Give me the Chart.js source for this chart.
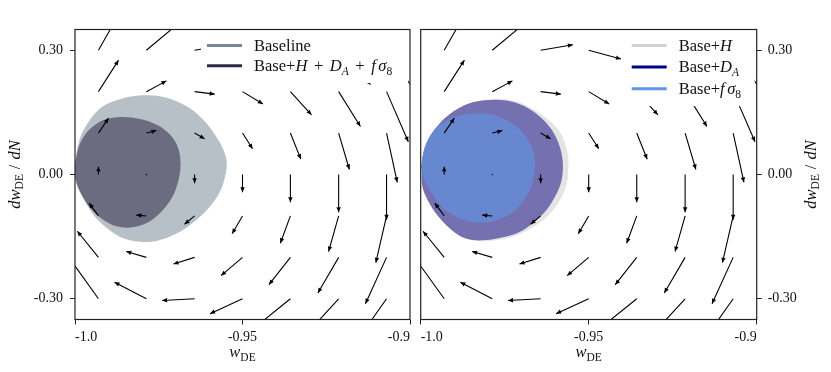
<!DOCTYPE html>
<html>
<head>
<meta charset="utf-8">
<script src="https://cdn.jsdelivr.net/npm/chart.js@4"></script>
<style>
  body { margin: 0; background: #fff; }
  #wrap { position: relative; width: 831px; height: 372px; }
  canvas { position: absolute; top: 0; }
</style>
</head>
<body>
<div id="wrap">
  <canvas id="left" width="415" height="372" style="left:0"></canvas>
  <canvas id="right" width="416" height="372" style="left:415px"></canvas>
</div>
<script>
// axes
var xTicks = [-1.0, -0.95, -0.9];
var xTickLabels = ['-1.0', '-0.95', '-0.9'];
var yTicks = [-0.3, 0, 0.3];
var yTickLabels = ['-0.30', '0.00', '0.30'];

// quiver grid (w_DE, dw_DE/dN) and flow vectors, one row per dw value
var gridX = [-0.993, -0.9787, -0.9643, -0.95, -0.9357, -0.9213, -0.907];
var gridY = [0.3, 0.2, 0.1, 0.0, -0.1, -0.2, -0.3];
var flowU = [
  [0.0095, 0.0095, 0.0096, 0.0096, 0.0095, 0.0095, 0.0095],
  [0.0060, 0.0060, 0.0060, 0.0061, 0.0063, 0.0065, 0.0065],
  [0.0030, 0.0030, 0.0030, 0.0030, 0.0031, 0.0032, 0.0032],
  [0, 0, 0, 0, 0, 0, 0],
  [-0.0028, -0.0030, -0.0030, -0.0031, -0.0030, -0.0030, -0.0032],
  [-0.0063, -0.0060, -0.0063, -0.0064, -0.0064, -0.0062, -0.0063],
  [-0.0093, -0.0095, -0.0097, -0.0097, -0.0095, -0.0095, -0.0095]
];
var flowV = [
  [0.135, 0.064, 0.013, -0.021, -0.052, -0.083, -0.111],
  [0.076, 0.026, -0.006, -0.030, -0.056, -0.084, -0.121],
  [0.036, 0.006, -0.014, -0.038, -0.063, -0.088, -0.119],
  [0.019, 0, -0.021, -0.043, -0.067, -0.091, -0.109],
  [0.031, 0.002, -0.020, -0.043, -0.066, -0.086, -0.113],
  [0.063, 0.014, -0.016, -0.044, -0.066, -0.086, -0.112],
  [0.105, 0.040, -0.004, -0.036, -0.062, -0.084, -0.109]
];

// contours
var baselineW = [-1.0, -0.9997, -0.9985, -0.9965, -0.9940, -0.9905, -0.9856, -0.9801, -0.9756, -0.9707, -0.9657, -0.9617, -0.9582, -0.9557, -0.9547, -0.9552, -0.9567, -0.9597, -0.9637, -0.9687, -0.9746, -0.9796, -0.9856, -0.9905, -0.9945, -0.9975, -0.9995];
var baselineDW = [0.003, 0.043, 0.088, 0.120, 0.148, 0.170, 0.184, 0.191, 0.190, 0.180, 0.160, 0.132, 0.096, 0.060, 0.031, -0.005, -0.041, -0.077, -0.109, -0.138, -0.158, -0.163, -0.154, -0.129, -0.097, -0.057, -0.025];
var comboW = [-1.0, -0.9990, -0.9970, -0.9940, -0.9905, -0.9856, -0.9806, -0.9756, -0.9716, -0.9692, -0.9685, -0.9692, -0.9711, -0.9746, -0.9786, -0.9836, -0.9876, -0.9916, -0.9955, -0.9985, -0.9998];
var comboDW = [0.023, 0.064, 0.096, 0.120, 0.134, 0.139, 0.134, 0.120, 0.096, 0.064, 0.023, -0.017, -0.057, -0.093, -0.117, -0.128, -0.125, -0.109, -0.081, -0.041, -0.009];
var hubbleW = [-0.9997, -0.9992, -0.9972, -0.9943, -0.9903, -0.9858, -0.9809, -0.9764, -0.9715, -0.9670, -0.9625, -0.9590, -0.9571, -0.9561, -0.9561, -0.9565, -0.9580, -0.9605, -0.9640, -0.9690, -0.9749, -0.9815, -0.9868, -0.9908, -0.9948, -0.9977, -0.9995];
var hubbleDW = [0.011, 0.052, 0.092, 0.124, 0.152, 0.171, 0.180, 0.182, 0.176, 0.160, 0.136, 0.108, 0.076, 0.043, 0.011, -0.021, -0.053, -0.085, -0.113, -0.138, -0.155, -0.161, -0.154, -0.134, -0.101, -0.065, -0.029];
var angularW = [-0.9997, -0.9992, -0.9972, -0.9943, -0.9903, -0.9858, -0.9809, -0.9764, -0.9719, -0.9680, -0.9640, -0.9610, -0.9590, -0.9579, -0.9577, -0.9583, -0.9600, -0.9625, -0.9660, -0.9704, -0.9759, -0.9818, -0.9868, -0.9908, -0.9948, -0.9977, -0.9995];
var angularDW = [0.011, 0.052, 0.092, 0.124, 0.152, 0.171, 0.179, 0.180, 0.174, 0.160, 0.136, 0.108, 0.076, 0.043, 0.011, -0.021, -0.053, -0.085, -0.113, -0.138, -0.152, -0.159, -0.154, -0.134, -0.101, -0.065, -0.029];
var growthW = [-0.9999, -0.9987, -0.9963, -0.9928, -0.9878, -0.9824, -0.9774, -0.9729, -0.9695, -0.9670, -0.9660, -0.9662, -0.9675, -0.9699, -0.9729, -0.9769, -0.9809, -0.9858, -0.9898, -0.9938, -0.9967, -0.9989];
var growthDW = [0.019, 0.068, 0.104, 0.128, 0.144, 0.148, 0.142, 0.124, 0.100, 0.068, 0.035, 0.003, -0.037, -0.069, -0.093, -0.109, -0.116, -0.113, -0.101, -0.077, -0.045, -0.013];

// legend labels (text, style): r roman, i italic, s* subscript, g gap in em
var leftLabels = [
  [['Baseline', 'r']],
  [['Base+', 'r'], ['H', 'i'], [0.4, 'g'], ['+', 'r'], [0.4, 'g'], ['D', 'i'], ['A', 'si'], [0.4, 'g'], ['+', 'r'], [0.4, 'g'], ['f', 'i'], [0.15, 'g'], ['σ', 'i'], ['8', 'sr']]
];
var rightLabels = [
  [['Base+', 'r'], ['H', 'i']],
  [['Base+', 'r'], ['D', 'i'], ['A', 'si']],
  [['Base+', 'r'], ['f', 'i'], [0.15, 'g'], ['σ', 'i'], ['8', 'sr']]
];
var xTitleParts = [['w', 'i'], ['DE', 'sr']];
var yTitleParts = [['d', 'i'], ['w', 'i'], ['DE', 'sr'], [0.3, 'g'], ['/', 'r'], [0.3, 'g'], ['d', 'i'], ['N', 'i']];

Chart.defaults.font.family = '"Liberation Serif", "Times New Roman", serif';
Chart.defaults.color = '#111';

function toPts(xs, ys) {
  var pts = xs.map(function (x, i) { return {x: x, y: ys[i]}; });
  pts.push({x: xs[0], y: ys[0]});
  return pts;
}

function arrowShafts() {
  var pts = [];
  gridY.forEach(function (y, r) {
    gridX.forEach(function (x, c) {
      pts.push({x: x, y: y}, {x: x + flowU[r][c], y: y + flowV[r][c]}, {x: null, y: null});
    });
  });
  return pts;
}

function richText(ctx, parts, x, y, size, measureOnly) {
  var cx = x;
  parts.forEach(function (p) {
    if (p[1] === 'g') { cx += p[0] * size; return; }
    var sub = p[1].charAt(0) === 's', it = p[1].indexOf('i') >= 0;
    var fs = sub ? size * 0.7 : size;
    ctx.font = (it ? 'italic ' : '') + fs.toFixed(1) + 'px "Liberation Serif"';
    if (!measureOnly) ctx.fillText(p[0], cx, y + (sub ? size * 0.22 : 0));
    cx += ctx.measureText(p[0]).width;
  });
  return cx - x;
}

var quiverHeads = {
  id: 'quiverHeads',
  afterDatasetsDraw: function (chart) {
    var ctx = chart.ctx, a = chart.chartArea, sx = chart.scales.x, sy = chart.scales.y;
    ctx.save();
    ctx.beginPath();
    ctx.rect(a.left, a.top, a.right - a.left, a.bottom - a.top);
    ctx.clip();
    ctx.fillStyle = '#000';
    gridY.forEach(function (y, r) {
      gridX.forEach(function (x, c) {
        var x0 = sx.getPixelForValue(x), y0 = sy.getPixelForValue(y);
        var x1 = sx.getPixelForValue(x + flowU[r][c]), y1 = sy.getPixelForValue(y + flowV[r][c]);
        var dx = x1 - x0, dy = y1 - y0, len = Math.sqrt(dx * dx + dy * dy);
        ctx.beginPath();
        if (len < 0.5) {
          ctx.arc(x0, y0, 0.7, 0, 2 * Math.PI);
          ctx.fill();
          return;
        }
        var ux = dx / len, uy = dy / len, hl = Math.min(5, len * 0.6), hw = 2.2;
        ctx.moveTo(x1, y1);
        ctx.lineTo(x1 - ux * hl - uy * hw, y1 - uy * hl + ux * hw);
        ctx.lineTo(x1 - ux * hl + uy * hw, y1 - uy * hl - ux * hw);
        ctx.closePath();
        ctx.fill();
      });
    });
    ctx.restore();
  }
};

var boxLegend = {
  id: 'boxLegend',
  afterDatasetsDraw: function (chart, args, opts) {
    var ctx = chart.ctx, a = chart.chartArea, size = 16.5;
    ctx.save();
    ctx.textAlign = 'left';
    ctx.textBaseline = 'alphabetic';
    var w = Math.max.apply(null, opts.labels.map(function (p) { return richText(ctx, p, 0, 0, size, true); }));
    w = Math.max(w, opts.minWidth);
    var tx = a.right - 8 - w, hx1 = tx - 12, hx0 = hx1 - 35;
    var base0 = a.top + 21.2;
    var lastBase = base0 + opts.rowGap * (opts.labels.length - 1);
    ctx.fillStyle = '#fff';
    ctx.fillRect(hx0 - 6, a.top + 1, a.right - 2 - (hx0 - 6), lastBase + 12 - a.top - 1);
    opts.labels.forEach(function (p, i) {
      var by = base0 + i * opts.rowGap;
      ctx.strokeStyle = opts.colors[i];
      ctx.lineWidth = 3;
      ctx.beginPath();
      ctx.moveTo(hx0, by - 5.3);
      ctx.lineTo(hx1, by - 5.3);
      ctx.stroke();
      ctx.fillStyle = '#111';
      richText(ctx, p, tx, by, size, false);
    });
    // frame
    ctx.strokeStyle = '#222';
    ctx.lineWidth = 1.2;
    ctx.strokeRect(a.left, a.top, a.right - a.left, a.bottom - a.top);
    ctx.restore();
  }
};

var axisTitles = {
  id: 'axisTitles',
  afterDraw: function (chart, args, opts) {
    var ctx = chart.ctx, a = chart.chartArea, size = 16.5;
    ctx.save();
    ctx.fillStyle = '#111';
    ctx.textAlign = 'left';
    ctx.textBaseline = 'alphabetic';
    var w = richText(ctx, xTitleParts, 0, 0, size, true);
    richText(ctx, xTitleParts, (a.left + a.right) / 2 - w / 2, 357, size, false);
    ctx.translate(opts.yTitleX, (a.top + a.bottom) / 2);
    ctx.rotate(-Math.PI / 2);
    w = richText(ctx, yTitleParts, 0, 0, size, true);
    richText(ctx, yTitleParts, -w / 2, 0, size, false);
    ctx.restore();
  }
};

function shapeSet(label, pts, color, order) {
  return {
    label: label, data: pts, backgroundColor: color, borderColor: 'rgba(0,0,0,0)',
    borderWidth: 1, fill: 'shape', pointRadius: 0, tension: 0.35, order: order, clip: 0
  };
}

function makeChart(id, side, contours, legendLabels, legendColors, rowGap, minWidth, padding, axisWidth, yTitleX) {
  var datasets = [{
    label: 'flow', data: arrowShafts(), borderColor: '#000', borderWidth: 1.1,
    pointRadius: 0, fill: false, tension: 0, spanGaps: false, order: 0, clip: 0
  }].concat(contours);
  return new Chart(document.getElementById(id), {
    type: 'line',
    data: {datasets: datasets},
    options: {
      responsive: false,
      animation: false,
      events: [],
      layout: {padding: padding},
      scales: {
        x: {
          type: 'linear', min: -1.0, max: -0.9,
          afterBuildTicks: function (s) { s.ticks = xTicks.map(function (v) { return {value: v}; }); },
          afterFit: function (s) { s.height = 52.5; },
          ticks: {
            align: 'inner', padding: 4, color: '#111', font: {size: 14},
            maxRotation: 0, autoSkip: false,
            callback: function (v, i) { return xTickLabels[i]; }
          },
          grid: {drawOnChartArea: false, tickLength: 5, color: '#222'},
          border: {display: false}
        },
        y: {
          type: 'linear', position: side, min: -0.35, max: 0.35,
          afterBuildTicks: function (s) { s.ticks = yTicks.map(function (v) { return {value: v}; }); },
          afterFit: function (s) { s.width = axisWidth; },
          ticks: {
            padding: side === 'left' ? 7 : 6, color: '#111', font: {size: 14}, autoSkip: false,
            callback: function (v, i) { return yTickLabels[i]; }
          },
          grid: {drawOnChartArea: false, tickLength: 5, color: '#222'},
          border: {display: false}
        }
      },
      plugins: {
        legend: {display: false},
        tooltip: {enabled: false},
        boxLegend: {labels: legendLabels, colors: legendColors, rowGap: rowGap, minWidth: minWidth},
        axisTitles: {yTitleX: yTitleX}
      }
    },
    plugins: [quiverHeads, boxLegend, axisTitles]
  });
}

makeChart('left', 'left', [
  shapeSet('Base+H+DA+fs8', toPts(comboW, comboDW), '#6c6c80', 1),
  shapeSet('Baseline', toPts(baselineW, baselineDW), '#b7bfc7', 2)
], leftLabels, ['#778899', '#2b2b47'], 20.4, 148, {top: 29.5, right: 5, left: 0, bottom: 0}, 75, 19.5);

makeChart('right', 'right', [
  shapeSet('Base+fs8', toPts(growthW, growthDW), '#6787d0', 1),
  shapeSet('Base+DA', toPts(angularW, angularDW), '#7571b0', 2),
  shapeSet('Base+H', toPts(hubbleW, hubbleDW), '#e4e4e4', 3)
], rightLabels, ['#d3d3d3', '#00008b', '#6495ed'], 21.7, 70, {top: 29.5, left: 5.7, right: 0, bottom: 0}, 74.3, 400.5);
</script>
</body>
</html>
